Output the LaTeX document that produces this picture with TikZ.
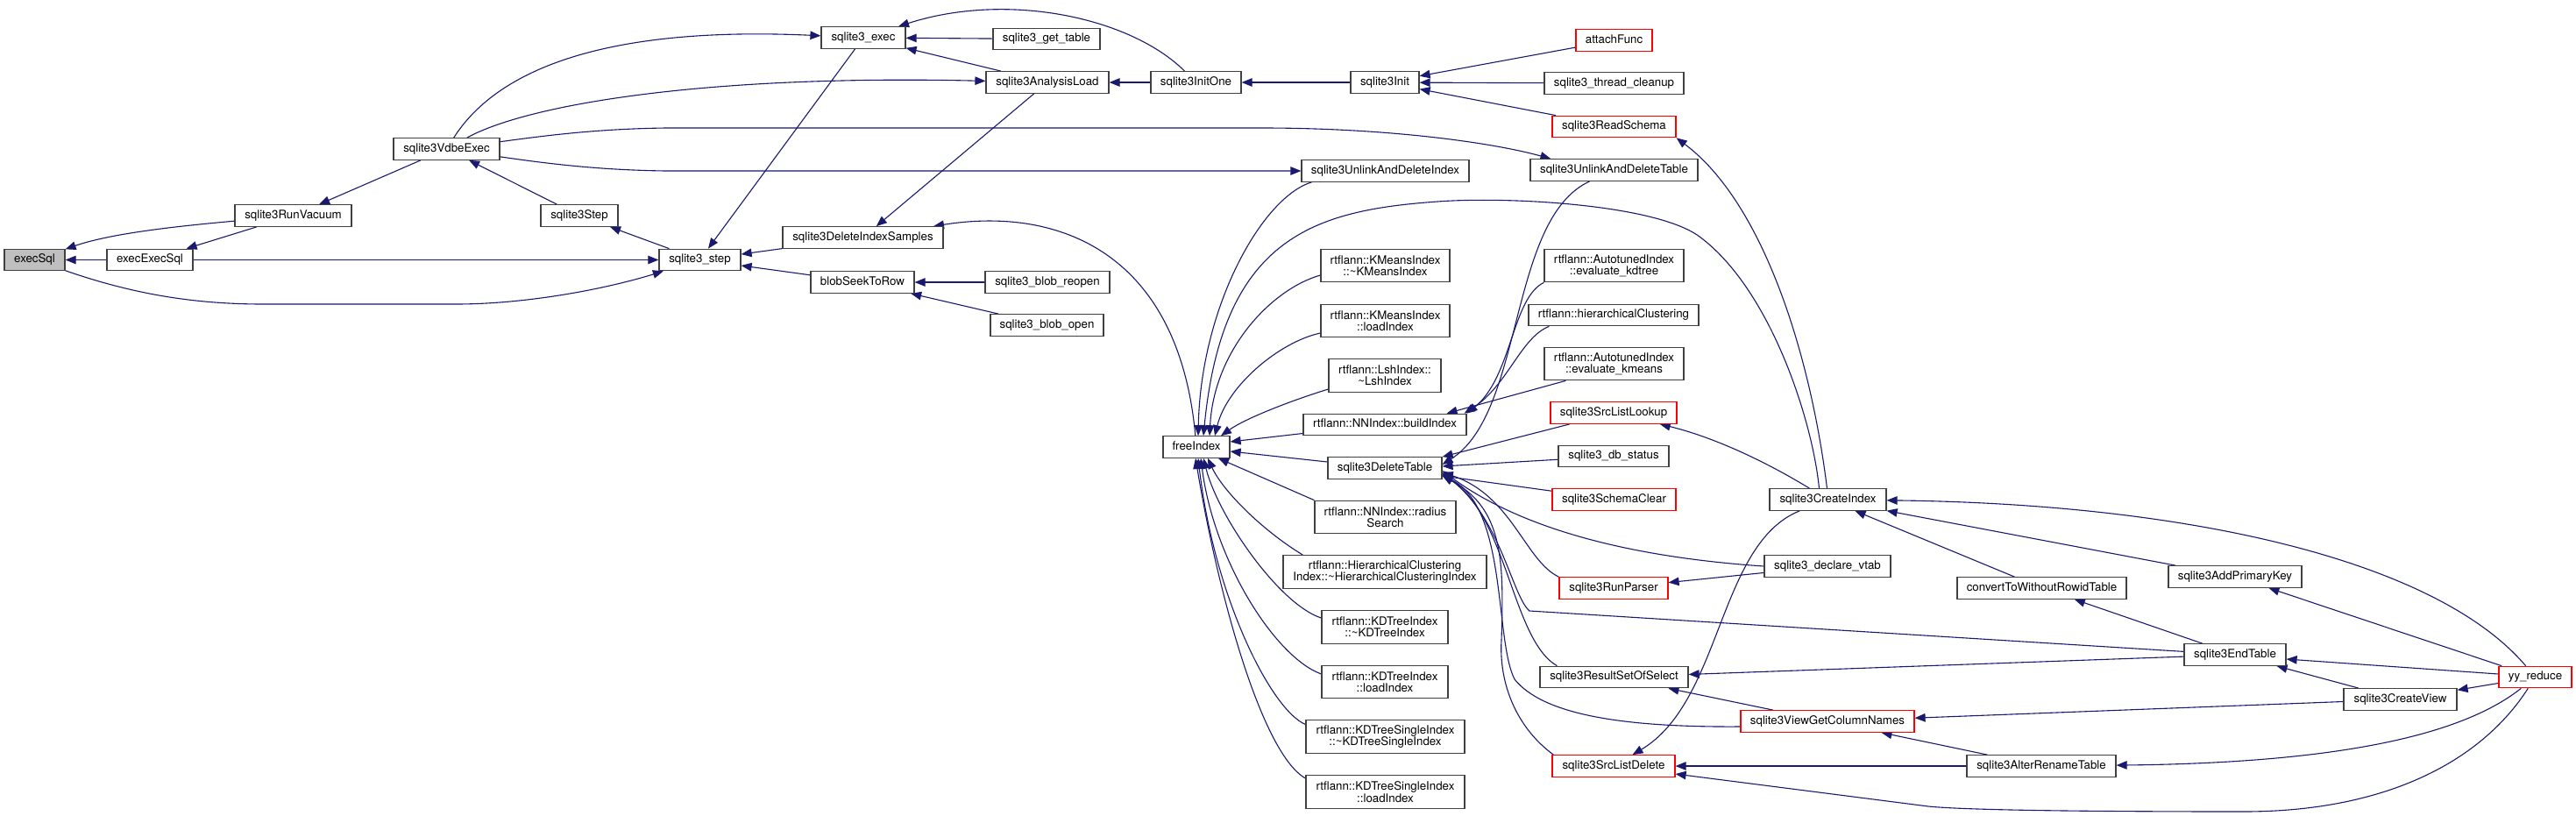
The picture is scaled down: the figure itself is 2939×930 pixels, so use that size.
\documentclass[tikz,border=0pt]{standalone}
\usepackage{fontspec}
\newfontfamily\hv{TeX Gyre Heros}
\usetikzlibrary{arrows.meta}
\definecolor{edgeblue}{HTML}{191970}
\definecolor{boxgray}{HTML}{404040}
\definecolor{selgray}{HTML}{BFBFBF}
\definecolor{boxred}{HTML}{FF0000}
\newcommand\nodefont{\hv\fontsize{13.3pt}{13.3pt}\selectfont}
\pgfdeclarelayer{background}
\pgfdeclarelayer{canvasbg}
\pgfsetlayers{canvasbg,background,main}
\tikzset{
  nd/.style={draw=boxgray, line width=1.2pt, fill=white, inner sep=0pt, font=\nodefont, text=black},
  nbox/.style={nd, minimum height=24.5pt, text height=9.6pt, text depth=2.8pt},
  rbox/.style={nbox, draw=boxred},
  tbox/.style={nd, minimum height=37.5pt, align=center},
  conn/.style={draw=edgeblue, line width=1.1pt, -{Triangle[length=12pt,width=9.5pt]}},
}
\begin{document}
\begin{tikzpicture}[x=1pt,y=-1pt]
\useasboundingbox (0,0) rectangle (2939,930);
\begin{pgfonlayer}{canvasbg}
\fill[white] (0,0) rectangle (2939,930);
\end{pgfonlayer}
% nodes
\node[nbox, fill=selgray, minimum width=69pt] (execsql) at (39.5,296.5) {execSql};
\node[nbox, minimum width=98pt] (execexec) at (171,296.5) {execExecSql};
\node[nbox, minimum width=133pt] (vacuum) at (334.5,246) {sqlite3RunVacuum};
\node[nbox, minimum width=121pt] (vdbe) at (509.5,170) {sqlite3VdbeExec};
\node[nbox, minimum width=88pt] (bigstep) at (661,246) {sqlite3Step};
\node[nbox, minimum width=93pt] (ustep) at (798.5,296.5) {sqlite3\_step};
\node[nbox, minimum width=96pt] (uexec) at (985,43) {sqlite3\_exec};
\node[nbox, minimum width=122pt] (gettable) at (1194,44.5) {sqlite3\_get\_table};
\node[nbox, minimum width=140pt] (analysis) at (1195,94) {sqlite3AnalysisLoad};
\node[nbox, minimum width=103pt] (initone) at (1364.5,94) {sqlite3InitOne};
\node[nbox, minimum width=183pt] (delsamples) at (984.5,271) {sqlite3DeleteIndexSamples};
\node[nbox, minimum width=118pt] (blobseek) at (984,322) {blobSeekToRow};
\node[nbox, minimum width=142pt] (blobreopen) at (1195,322) {sqlite3\_blob\_reopen};
\node[nbox, minimum width=129pt] (blobopen) at (1194.5,371) {sqlite3\_blob\_open};
\node[nbox, minimum width=76pt] (freeindex) at (1365,510) {freeIndex};
\node[nbox, minimum width=78pt] (init) at (1580,94) {sqlite3Init};
\node[rbox, minimum width=87pt] (attach) at (1841.5,46) {attachFunc};
\node[nbox, minimum width=159pt] (cleanup) at (1841.5,95) {sqlite3\_thread\_cleanup};
\node[rbox, minimum width=141pt] (readschema) at (1841.5,144.5) {sqlite3ReadSchema};
\node[nbox, minimum width=191pt] (uindex) at (1580.5,195) {sqlite3UnlinkAndDeleteIndex};
\node[nbox, minimum width=191pt] (utable) at (1841.5,194) {sqlite3UnlinkAndDeleteTable};
\node[tbox, minimum width=147pt] (kmdtor) at (1580.5,303) {rtflann::KMeansIndex\\::\textasciitilde KMeansIndex};
\node[tbox, minimum width=147pt] (kmload) at (1580.5,366) {rtflann::KMeansIndex\\::loadIndex};
\node[tbox, minimum width=128pt] (lsh) at (1580,428.5) {rtflann::LshIndex::\\\textasciitilde LshIndex};
\node[tbox, minimum width=159pt] (evkd) at (1841.5,303) {rtflann::AutotunedIndex\\::evaluate\_kdtree};
\node[nbox, minimum width=194pt] (hclust) at (1841,359.5) {rtflann::hierarchicalClustering};
\node[tbox, minimum width=159pt] (evkm) at (1841.5,415) {rtflann::AutotunedIndex\\::evaluate\_kmeans};
\node[rbox, minimum width=144pt] (srclookup) at (1841,471) {sqlite3SrcListLookup};
\node[nbox, minimum width=186pt] (buildindex) at (1580,484.5) {rtflann::NNIndex::buildIndex};
\node[nbox, minimum width=130pt] (deltable) at (1580,534) {sqlite3DeleteTable};
\node[nbox, minimum width=126pt] (dbstatus) at (1841,520.5) {sqlite3\_db\_status};
\node[rbox, minimum width=141pt] (schemaclear) at (1841.5,570) {sqlite3SchemaClear};
\node[nbox, minimum width=133pt] (createindex) at (2085.5,570) {sqlite3CreateIndex};
\node[tbox, minimum width=161pt] (radius) at (1580.5,590) {rtflann::NNIndex::radius\\Search};
\node[tbox, minimum width=232pt] (hcindex) at (1580,652.5) {rtflann::HierarchicalClustering\\Index::\textasciitilde HierarchicalClusteringIndex};
\node[nbox, minimum width=144pt] (vtab) at (2085,646) {sqlite3\_declare\_vtab};
\node[rbox, minimum width=124pt] (runparser) at (1841,671) {sqlite3RunParser};
\node[tbox, minimum width=144pt] (kddtor) at (1580,715.5) {rtflann::KDTreeIndex\\::\textasciitilde KDTreeIndex};
\node[tbox, minimum width=144pt] (kdload) at (1580,778) {rtflann::KDTreeIndex\\::loadIndex};
\node[nbox, minimum width=169pt] (rsos) at (1841.5,772.5) {sqlite3ResultSetOfSelect};
\node[rbox, minimum width=198pt] (vgcn) at (2085,823) {sqlite3ViewGetColumnNames};
\node[tbox, minimum width=181pt] (kdsdtor) at (1580.5,840.5) {rtflann::KDTreeSingleIndex\\::\textasciitilde KDTreeSingleIndex};
\node[rbox, minimum width=140pt] (srcdelete) at (1841,874) {sqlite3SrcListDelete};
\node[tbox, minimum width=181pt] (kdsload) at (1580.5,903.5) {rtflann::KDTreeSingleIndex\\::loadIndex};
\node[nbox, minimum width=193pt] (convert) at (2329.5,671) {convertToWithoutRowidTable};
\node[nbox, minimum width=152pt] (addpk) at (2550,658) {sqlite3AddPrimaryKey};
\node[nbox, minimum width=116pt] (endtable) at (2550,747) {sqlite3EndTable};
\node[rbox, minimum width=83pt] (yyreduce) at (2892.5,772.5) {yy\_reduce};
\node[nbox, minimum width=129pt] (createview) at (2738.5,798) {sqlite3CreateView};
\node[nbox, minimum width=170pt] (altertable) at (2329,874) {sqlite3AlterRenameTable};
% edges
\begin{pgfonlayer}{background}
\draw[conn] (vacuum) .. controls (215,257) and (130,265) .. (execsql);
\draw[conn] (execexec) -- (execsql);
\draw[conn] (vacuum) -- (execexec);
\draw[conn] (vdbe) -- (vacuum);
\draw[conn] (bigstep) -- (vdbe);
\draw[conn] (ustep) -- (bigstep);
\draw[conn] (execexec) -- (ustep);
\draw[conn] (execsql) .. controls (150,335) and (220,347) .. (300,347) -- (520,347) .. controls (600,347) and (690,330) .. (ustep);
\draw[conn] (vdbe) .. controls (570,75) and (700,30) .. (uexec);
\draw[conn] (vdbe) .. controls (600,120) and (800,85) .. (analysis);
\draw[conn] (vdbe) .. controls (620,155) and (680,147) .. (760,146) -- (1440,146) .. controls (1580,146) and (1700,162) .. ([xshift=24pt]utable.north west);
\draw[conn] (vdbe) .. controls (620,186) and (680,194) .. (760,195) -- (uindex);
\draw[conn] (gettable) -- (uexec);
\draw[conn] (analysis) -- (uexec);
\draw[conn] (initone) .. controls (1290,20) and (1150,-10) .. (uexec);
\draw[conn] (initone) -- (analysis);
\draw[conn] (init) -- (initone);
\draw[conn] (uexec) -- (ustep);
\draw[conn] (analysis) -- (delsamples);
\draw[conn] (delsamples) -- (ustep);
\draw[conn] (blobseek) -- (ustep);
\draw[conn] (blobreopen) -- (blobseek);
\draw[conn] (blobopen) -- (blobseek);
\draw[conn] (freeindex) .. controls (1345,290) and (1210,235) .. (delsamples);
% sqlite3Init callers
\draw[conn] (attach) -- (init);
\draw[conn] (cleanup) -- (init);
\draw[conn] (readschema) -- (init);
\draw[conn] ([xshift=-1pt]createindex.north) .. controls (2065,400) and (2010,230) .. (readschema.south east);
% freeIndex callers
\draw[conn] ([xshift=12pt]uindex.south west) .. controls (1440,225) and (1370,350) .. ([xshift=2pt]freeindex.north);
\draw[conn] ([xshift=-10pt]createindex.north) .. controls (2068,480) and (2020,330) .. (1939,270) .. controls (1889,233) and (1720,224) .. (1640,230) .. controls (1500,240) and (1395,270) .. ([xshift=8pt]freeindex.north);
\draw[conn] ([yshift=-11pt]kmdtor.west) .. controls (1450,330) and (1385,400) .. ([xshift=15pt]freeindex.north);
\draw[conn] ([yshift=-14pt]kmload.west) .. controls (1460,390) and (1400,440) .. ([xshift=21pt]freeindex.north);
\draw[conn] ([yshift=-15.5pt]lsh.west) .. controls (1470,458) and (1420,478) .. ([xshift=28pt]freeindex.north);
\draw[conn] ([yshift=-10pt]buildindex.west) -- ([yshift=6pt]freeindex.east);
\draw[conn] ([yshift=7pt]deltable.west) -- ([yshift=-5pt]freeindex.east);
\draw[conn] (radius.north west) -- ([xshift=25pt]freeindex.south);
\draw[conn] ([xshift=23pt]hcindex.north west) .. controls (1440,605) and (1395,560) .. ([xshift=13pt]freeindex.south);
\draw[conn] ([yshift=10.5pt]kddtor.west) .. controls (1460,690) and (1390,590) .. ([xshift=8pt]freeindex.south);
\draw[conn] ([yshift=9pt]kdload.west) .. controls (1455,750) and (1385,640) .. ([xshift=5pt]freeindex.south);
\draw[conn] ([yshift=14pt]kdsdtor.west) .. controls (1450,810) and (1385,680) .. ([xshift=2pt]freeindex.south);
\draw[conn] ([yshift=15.5pt]kdsload.west) .. controls (1440,860) and (1390,680) .. ([xshift=-1pt]freeindex.south);
% buildIndex callers
\draw[conn] (evkd.south west) .. controls (1725,340) and (1725,430) .. (buildindex.north east);
\draw[conn] ([xshift=24pt]hclust.south west) .. controls (1735,385) and (1720,440) .. ([xshift=-3pt]buildindex.north east);
\draw[conn] ([xshift=25pt]evkm.south west) -- ([xshift=-23pt]buildindex.north east);
% sqlite3DeleteTable callers
\draw[conn] (srclookup) -- (deltable.north east);
\draw[conn] (utable) .. controls (1720,250) and (1740,470) .. ([yshift=4pt]deltable.east);
\draw[conn] (dbstatus) -- ([yshift=2pt]deltable.east);
\draw[conn] (schemaclear) -- ([yshift=-9pt]deltable.east);
\draw[conn] (vtab.west) .. controls (1850,635) and (1730,600) .. ([yshift=-3pt]deltable.east);
\draw[conn] (runparser.north west) .. controls (1740,640) and (1725,565) .. ([yshift=-5pt]deltable.east);
\draw[conn] (endtable) -- (1745,697) .. controls (1725,680) and (1712,590) .. ([yshift=-6pt]deltable.east);
\draw[conn] ([xshift=20pt]rsos.north west) .. controls (1725,730) and (1720,590) .. ([yshift=-7pt]deltable.east);
\draw[conn] ([yshift=-6pt]vgcn.west) .. controls (1850,830) and (1760,815) .. (1728,775) .. controls (1705,730) and (1720,580) .. ([yshift=-8pt]deltable.east);
\draw[conn] ([xshift=2pt]srcdelete.north west) .. controls (1730,830) and (1710,780) .. (1713,730) .. controls (1716,640) and (1715,580) .. ([yshift=-9pt]deltable.east);
% right part
\draw[conn] (createindex) .. controls (2020,530) and (1960,500) .. (srclookup);
\draw[conn] (vtab) -- (runparser);
\draw[conn] (yyreduce) .. controls (2780,640) and (2500,575) .. (createindex);
\draw[conn] (addpk) -- (createindex);
\draw[conn] (convert) -- (createindex);
\draw[conn] (createindex) .. controls (1960,620) and (1965,800) .. (srcdelete);
\draw[conn] (endtable) -- (rsos);
\draw[conn] (vgcn) -- (rsos);
\draw[conn] (createview) -- (vgcn);
\draw[conn] (altertable) -- (vgcn);
\draw[conn] (altertable) -- (srcdelete);
\draw[conn] (yyreduce) .. controls (2830,870) and (2720,926) .. (2560,926) .. controls (2420,926) and (2250,925) .. (2200,920) -- (srcdelete);
\draw[conn] (endtable) -- (convert);
\draw[conn] (yyreduce) -- (addpk);
\draw[conn] ([yshift=3.5pt]yyreduce.west) -- ([yshift=-5pt]endtable.east);
\draw[conn] (createview) -- (endtable);
\draw[conn] (yyreduce) -- (createview);
\draw[conn] (yyreduce) .. controls (2820,830) and (2700,870) .. (altertable);
\end{pgfonlayer}
\end{tikzpicture}
\end{document}
